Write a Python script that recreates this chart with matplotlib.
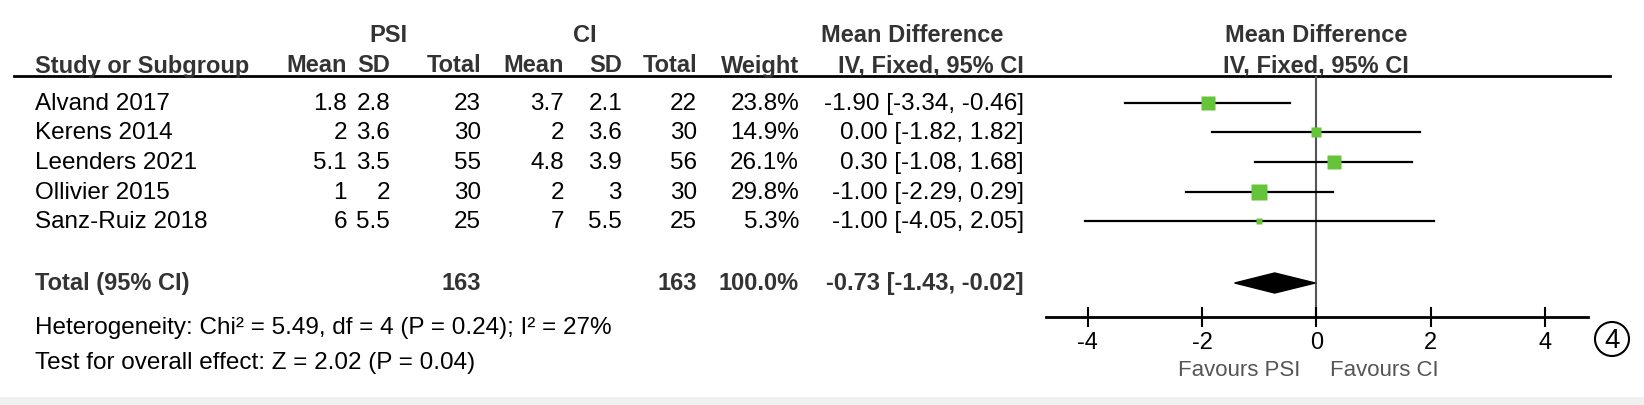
import numpy as np
import matplotlib
matplotlib.use('Agg')
import matplotlib.pyplot as plt
from matplotlib.patches import Rectangle, Circle

plt.rcParams['font.family'] = ['Liberation Sans', 'DejaVu Sans']

estudos = ['Alvand 2017', 'Kerens 2014', 'Leenders 2021', 'Ollivier 2015', 'Sanz-Ruiz 2018']
psi_mean = ['1.8', '2', '5.1', '1', '6']
psi_sd = ['2.8', '3.6', '3.5', '2', '5.5']
psi_total = [23, 30, 55, 30, 25]
ci_mean = ['3.7', '2', '4.8', '2', '7']
ci_sd = ['2.1', '3.6', '3.9', '3', '5.5']
ci_total = [22, 30, 56, 30, 25]
peso = [23.8, 14.9, 26.1, 29.8, 5.3]
md = [-1.90, 0.00, 0.30, -1.00, -1.00]
md_lo = [-3.34, -1.82, -1.08, -2.29, -4.05]
md_hi = [-0.46, 1.82, 1.68, 0.29, 2.05]

total_md = -0.73
total_lo = -1.43
total_hi = -0.02
ticks = [-4, -2, 0, 2, 4]

W, H = 1644, 406
fig = plt.figure(figsize=(W / 100, H / 100), dpi=100)
fig.patch.set_facecolor('white')

# camada de texto em pixels
ax_t = fig.add_axes([0, 0, 1, 1])
ax_t.set_xlim(0, W)
ax_t.set_ylim(H, 0)
ax_t.axis('off')
ax_t.add_patch(Rectangle((0, 398), W, 8, color='#f0f0f0', lw=0))

fs = 17
fs_r = 17.5
cab = '#333333'
linhas_y = [104, 133, 163, 193, 222]
y_total = 284

# cabecalhos
ax_t.text(388, 36, 'PSI', ha='center', va='center', fontsize=fs, fontweight='bold', color=cab)
ax_t.text(585, 36, 'CI', ha='center', va='center', fontsize=fs, fontweight='bold', color=cab)
ax_t.text(912, 36, 'Mean Difference', ha='center', va='center', fontsize=fs, fontweight='bold', color=cab)
ax_t.text(1316, 36, 'Mean Difference', ha='center', va='center', fontsize=fs, fontweight='bold', color=cab)
ax_t.text(35, 66, 'Study or Subgroup', ha='left', va='center', fontsize=fs, fontweight='bold', color=cab)
colunas = [(347, 'Mean'), (390, 'SD'), (481, 'Total'), (564, 'Mean'), (622, 'SD'),
           (697, 'Total'), (799, 'Weight'), (1024, 'IV, Fixed, 95% CI')]
for x, t in colunas:
    ax_t.text(x, 66, t, ha='right', va='center', fontsize=fs, fontweight='bold', color=cab)
ax_t.text(1316, 66, 'IV, Fixed, 95% CI', ha='center', va='center', fontsize=fs, fontweight='bold', color=cab)
ax_t.plot([14, 1610], [77, 77], color='black', lw=2)

for i, nome in enumerate(estudos):
    y = linhas_y[i]
    vals = [psi_mean[i], psi_sd[i], str(psi_total[i]), ci_mean[i], ci_sd[i], str(ci_total[i]),
            f'{peso[i]:.1f}%', f'{md[i]:.2f} [{md_lo[i]:.2f}, {md_hi[i]:.2f}]']
    ax_t.text(35, y, nome, ha='left', va='center', fontsize=fs_r, color='black')
    for (x, _), v in zip(colunas, vals):
        ax_t.text(x, y, v, ha='right', va='center', fontsize=fs_r, color='black')

ax_t.text(35, y_total, 'Total (95% CI)', ha='left', va='center', fontsize=fs, fontweight='bold', color=cab)
ax_t.text(481, y_total, str(sum(psi_total)), ha='right', va='center', fontsize=fs, fontweight='bold', color=cab)
ax_t.text(697, y_total, str(sum(ci_total)), ha='right', va='center', fontsize=fs, fontweight='bold', color=cab)
ax_t.text(799, y_total, '100.0%', ha='right', va='center', fontsize=fs, fontweight='bold', color=cab)
ax_t.text(1024, y_total, f'{total_md:.2f} [{total_lo:.2f}, {total_hi:.2f}]', ha='right', va='center',
          fontsize=fs, fontweight='bold', color=cab)
ax_t.text(35, 328, 'Heterogeneity: Chi² = 5.49, df = 4 (P = 0.24); I² = 27%', ha='left', va='center',
          fontsize=fs_r, color='black')
ax_t.text(35, 363, 'Test for overall effect: Z = 2.02 (P = 0.04)', ha='left', va='center',
          fontsize=fs_r, color='black')

# forest plot
x0, x1 = 1046, 1588
y0, y1 = 77, 318
ax = fig.add_axes([x0 / W, 1 - y1 / H, (x1 - x0) / W, (y1 - y0) / H])
ax.patch.set_alpha(0)
ax.set_xlim(-4.73, 4.75)
passo = 29.5
ax.set_ylim((y1 - linhas_y[0]) / passo, -(linhas_y[0] - y0) / passo)
for s in ['top', 'left', 'right']:
    ax.spines[s].set_visible(False)
ax.spines['bottom'].set_linewidth(2)
ax.set_yticks([])
ax.set_xticks(ticks)
ax.set_xticklabels([str(t) for t in ticks], fontsize=fs, color='black')
ax.tick_params(axis='x', direction='inout', length=14, width=1.5, pad=3)
ax.axvline(0, color='#555555', lw=1.5, zorder=1)

pos = [(y - linhas_y[0]) / passo for y in linhas_y]
for i in range(len(estudos)):
    ax.plot([md_lo[i], md_hi[i]], [pos[i], pos[i]], color='black', lw=1.6, zorder=2)
    ax.plot(md[i], pos[i], marker='s', ms=2.0 * np.sqrt(peso[i]), color='#66c43a', mec='none', zorder=3)

yt = (y_total - linhas_y[0]) / passo
h = 0.34
ax.fill([total_lo, total_md, total_hi, total_md], [yt, yt - h, yt, yt + h], color='black', zorder=3)

ax_t.text(1300, 371, 'Favours PSI', ha='right', va='center', fontsize=16, color='#555555')
ax_t.text(1330, 371, 'Favours CI', ha='left', va='center', fontsize=16, color='#555555')
ax_t.add_patch(Circle((1612, 340), 17, fill=False, lw=1.5, color='black'))
ax_t.text(1612, 341, '4', ha='center', va='center', fontsize=20, color='black')

fig.savefig('out.png', dpi=100)
plt.close(fig)
